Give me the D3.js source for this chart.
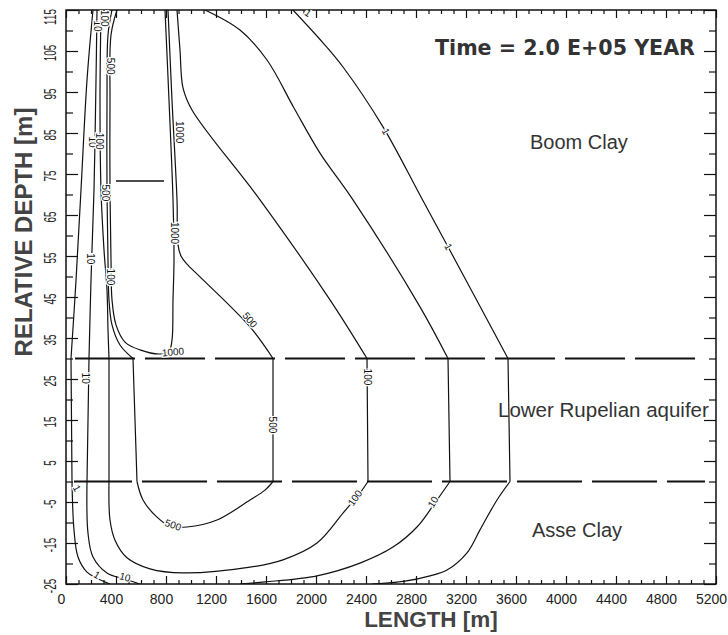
<!DOCTYPE html>
<html><head><meta charset="utf-8">
<script src="https://cdn.jsdelivr.net/npm/d3@7"></script>
<style>body{margin:0;background:#fff;} svg{display:block;}</style>
</head><body>
<svg id="c" width="728" height="635"></svg>
<script>
// ---------- data (length [m], relative depth [m]) ----------
const xMajor = [0,400,800,1200,1600,2000,2400,2800,3200,3600,4000,4400,4800,5200];
const yMajor = [115,105,95,85,75,65,55,45,35,25,15,5,-5,-15,-25];
const yMinor = [110,100,90,80,70,60,50,40,30,20,10,0,-10,-20];

const layerDepths = [30, 0];                 // Boom Clay / aquifer / Asse Clay boundaries
const layerExtent = [[72, 5064], [64, 5112]];
const repository = [[400, 73.3], [784, 73.3]];

const contour1Left = [[216,115],[168,97.9],[120,71.1],[80,49],[40,30],[44,15],[48,0],[64,-11.8],[96,-18.4],[168,-22.1],[248,-23.6],[352,-25]];
const contour1Right = [[1816,115],[2056,107],[2216,101.1],[2536,86.5],[2840,69.4],[3048,57.7],[3536,30],[3544,15],[3552,0],[3448,-4.5],[3312,-11.8],[3208,-17.4],[3048,-21.6],[2912,-23.0],[2712,-24.3],[2450,-25]];
const contour10Left = [[248,115],[240,97.9],[224,71.1],[200,49.1],[184,30],[176,15],[168,0],[176,-12.6],[216,-18.4],[328,-22.3],[472,-23.8],[592,-25]];
const contour10Right = [[1112,115],[1392,110.1],[1608,102.8],[1824,91.1],[2032,80.1],[2296,68.7],[2832,42.6],[3056,30],[3064,15],[3072,0],[2952,-5.2],[2808,-11.1],[2616,-16],[2352,-19.9],[2008,-23],[1592,-24.5],[1392,-25]];
const contour100 = [[280,115],[272,93],[280,71.1],[304,56.5],[328,46.7],[336,37],[344,30],[344,15],[344,0],[352,-9.4],[392,-14.3],[488,-18.6],[672,-21.3],[936,-22.3],[1472,-20.9],[1736,-19.1],[2008,-15],[2216,-7.7],[2352,-2.8],[2416,0],[2412,15],[2408,30],[2112,44.3],[1552,68.7],[1008,90.6],[936,96],[912,105.2],[888,115]];
const contour500 = [[368,115],[336,108.9],[328,93],[328,71.1],[336,54],[344,44.3],[368,38.2],[432,33.3],[536,30],[552,15],[568,0],[616,-4.5],[728,-8.7],[832,-10.9],[968,-11.1],[1208,-9.4],[1472,-4.5],[1592,-2.1],[1656,0],[1656,15],[1656,30],[1472,37.7],[1072,49.9],[968,53],[920,55],[896,57.7],[888,68.7],[848,93],[816,115]];
const contour1000 = [[408,115],[360,108.9],[352,93],[352,71.1],[360,54],[368,44.3],[400,38.2],[472,34],[592,32.1],[752,31.1],[824,31.8],[848,34.5],[856,44.3],[864,54],[856,68.7],[824,93],[792,115]];

const contours = [contour1Left, contour1Right, contour10Left, contour10Right, contour100, contour500, contour1000];

const labelText  = ["10","100","500","10","100","500","1000","10","100","1000","500","1000","10","100","500","1","500","100","10","1","10","1","1","1"];
const labelL     = [248,304,352,208,264,312,904,192,352,864,1472,856,152,2408,1648,88,856,2312,2936,248,472,1936,2560,3060];
const labelD     = [111.1,113,101.3,82.8,83.0,70.4,85.2,54.3,49.9,60.6,39.4,31.6,25.2,25.5,13.8,-1.6,-10.6,-4,-5,-22.8,-23.3,114.3,85.4,57.3];
const labelAngle = [90,90,90,90,90,90,90,90,90,90,50,-5,90,90,90,60,20,-55,-60,30,15,35,60,60];

// ---------- drawing ----------
const svg = d3.select("#c");
const x = d3.scaleLinear().domain([0,5200]).range([66,716]);
const y = d3.scaleLinear().domain([-25,115]).range([584,10]);

svg.append("rect").attr("width",728).attr("height",635).attr("fill","#fff");

svg.append("defs").append("clipPath").attr("id","plot")
  .append("rect").attr("x",x(0)).attr("y",y(115)).attr("width",x(5200)-x(0)).attr("height",y(-25)-y(115));

const xMinor = d3.range(0,5201,100).filter(v => v % 400 !== 0);

function styleAxis(g){
  g.select(".domain").remove();
  g.selectAll(".tick line").attr("stroke","#111").attr("stroke-width",1.2);
}
// bottom
svg.append("g").attr("transform",`translate(0,${y(-25)})`)
  .call(d3.axisBottom(x).tickValues(xMinor).tickSize(-4).tickFormat("")).call(styleAxis);
svg.append("g").attr("transform",`translate(0,${y(-25)})`)
  .call(d3.axisBottom(x).tickValues(xMajor).tickSize(-8).tickPadding(10).tickFormat(d3.format("d")))
  .call(styleAxis)
  .selectAll("text").attr("dx",-5).attr("font-size",14).attr("font-family","Liberation Sans, Arial, sans-serif").attr("fill","#222");
// top
svg.append("g").attr("transform",`translate(0,${y(115)})`)
  .call(d3.axisTop(x).tickValues(xMinor).tickSize(-4).tickFormat("")).call(styleAxis);
svg.append("g").attr("transform",`translate(0,${y(115)})`)
  .call(d3.axisTop(x).tickValues(xMajor).tickSize(-8).tickFormat("")).call(styleAxis);
// left
svg.append("g").attr("transform",`translate(${x(0)},0)`)
  .call(d3.axisLeft(y).tickValues(yMinor).tickSize(-7).tickFormat("")).call(styleAxis);
svg.append("g").attr("transform",`translate(${x(0)},0)`)
  .call(d3.axisLeft(y).tickValues(yMajor).tickSize(-12).tickFormat("")).call(styleAxis);
// right
svg.append("g").attr("transform",`translate(${x(5200)},0)`)
  .call(d3.axisRight(y).tickValues(yMinor).tickSize(-7).tickFormat("")).call(styleAxis);
svg.append("g").attr("transform",`translate(${x(5200)},0)`)
  .call(d3.axisRight(y).tickValues(yMajor).tickSize(-12).tickFormat("")).call(styleAxis);

// y tick labels (rotated, condensed like the plotter font)
svg.append("g").selectAll("text").data(yMajor).join("text")
  .attr("transform", d => `translate(51,${Math.max(y(d)+2, 17)}) rotate(-90) scale(0.62,1)`)
  .attr("text-anchor","middle").attr("dominant-baseline","central")
  .attr("font-family","Liberation Sans, Arial, sans-serif").attr("font-size",16).attr("fill","#222")
  .text(d => d);

// frame
svg.append("rect").attr("x",x(0)).attr("y",y(115)).attr("width",x(5200)-x(0)).attr("height",y(-25)-y(115))
  .attr("fill","none").attr("stroke","#111").attr("stroke-width",1.5);

const plot = svg.append("g").attr("clip-path","url(#plot)");

// layer boundaries
layerDepths.forEach((d,i) => {
  plot.append("line")
    .attr("x1", x(layerExtent[i][0])).attr("x2", x(layerExtent[i][1]))
    .attr("y1", y(d)).attr("y2", y(d))
    .attr("stroke","#111").attr("stroke-width",2.2)
    .attr("stroke-dasharray", i === 0 ? "60,10" : "65,10")
    .attr("stroke-dashoffset", i === 0 ? 0 : 7);
});

// repository
plot.append("path").attr("d", d3.line().x(d=>x(d[0])).y(d=>y(d[1]))(repository))
  .attr("stroke","#111").attr("stroke-width",1.6).attr("fill","none");

// contours
const curve = d3.line().x(d=>x(d[0])).y(d=>y(d[1])).curve(d3.curveCatmullRom.alpha(0.5));
function segments(pts){
  const segs=[]; let cur=[];
  pts.forEach((p,i)=>{
    cur.push(p);
    if ((p[1]===30 || p[1]===0) && i>0 && i<pts.length-1){ segs.push(cur); cur=[p]; }
  });
  segs.push(cur); return segs;
}
contours.forEach(c => {
  segments(c).forEach(s => {
    plot.append("path").attr("d", curve(s)).attr("fill","none")
      .attr("stroke","#111").attr("stroke-width",1.2);
  });
});

// contour labels
plot.append("g").selectAll("text").data(labelText).join("text")
  .attr("transform", (d,i) => `translate(${x(labelL[i])},${y(labelD[i])}) rotate(${labelAngle[i]})`)
  .attr("text-anchor","middle").attr("dominant-baseline","central")
  .attr("font-family","Liberation Sans, Arial, sans-serif").attr("font-size",10).attr("fill","#111")
  .attr("stroke","#fff").attr("stroke-width",2.5).attr("paint-order","stroke")
  .text(d => d);

// annotations
svg.append("text").attr("x",435).attr("y",55)
  .attr("font-family","DejaVu Sans, sans-serif").attr("font-weight","bold").attr("font-size",20.5)
  .attr("fill","#333").attr("textLength",260).attr("lengthAdjust","spacingAndGlyphs")
  .text("Time = 2.0 E+05 YEAR");
svg.append("text").attr("x",530).attr("y",149)
  .attr("font-family","Liberation Sans, Arial, sans-serif").attr("font-size",20).attr("fill","#333")
  .text("Boom Clay");
svg.append("text").attr("x",498).attr("y",417)
  .attr("font-family","Liberation Sans, Arial, sans-serif").attr("font-size",20.5).attr("fill","#333")
  .text("Lower Rupelian aquifer");
svg.append("text").attr("x",532).attr("y",537)
  .attr("font-family","Liberation Sans, Arial, sans-serif").attr("font-size",20).attr("fill","#333")
  .text("Asse Clay");

// axis titles
svg.append("text").attr("x",431).attr("y",627).attr("text-anchor","middle")
  .attr("font-family","Liberation Sans, Arial, sans-serif").attr("font-weight","bold").attr("font-size",22.5)
  .attr("fill","#444").text("LENGTH [m]");
svg.append("text").attr("transform","translate(32,232) rotate(-90)").attr("text-anchor","middle")
  .attr("font-family","Liberation Sans, Arial, sans-serif").attr("font-weight","bold").attr("font-size",24)
  .attr("fill","#444").text("RELATIVE DEPTH [m]");
</script>
</body></html>
